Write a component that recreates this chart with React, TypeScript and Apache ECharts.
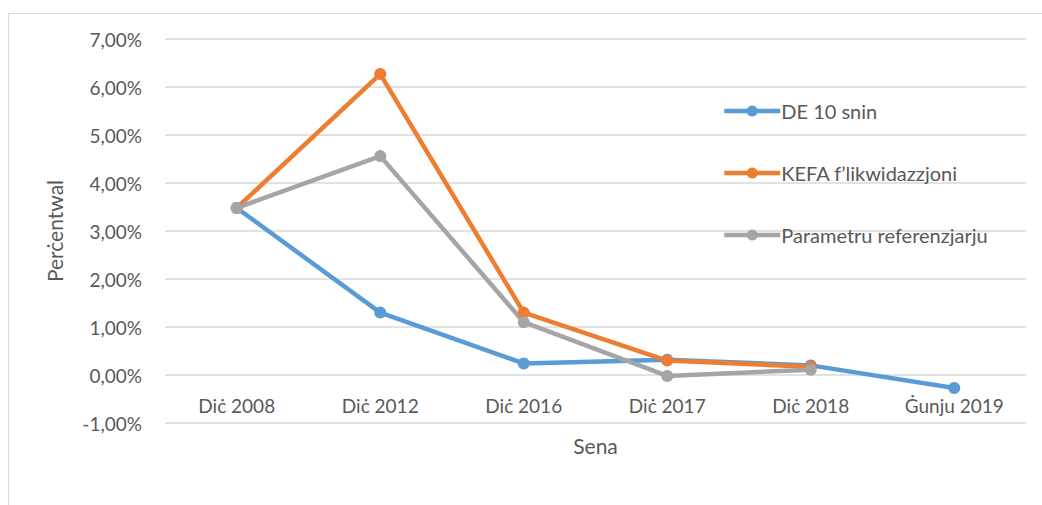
import React, { useEffect, useRef } from "react";
import * as echarts from "echarts";

const categories = ["Diċ 2008", "Diċ 2012", "Diċ 2016", "Diċ 2017", "Diċ 2018", "Ġunju 2019"];
const deValues = [3.48, 1.3, 0.24, 0.32, 0.2, -0.27];
const kefaValues = [3.48, 6.27, 1.3, 0.3, 0.17, null];
const paramValues = [3.48, 4.56, 1.1, -0.02, 0.11, null];
const seriesNames = ["DE 10 snin", "KEFA f’likwidazzjoni", "Parametru referenzjarju"];
const colors = ["#5B9BD5", "#ED7D31", "#A5A5A5"];

const FONT = "Lato";
const TXT = "#595959";

export default function App() {
  const ref = useRef<HTMLDivElement>(null);
  useEffect(() => {
    const chart = echarts.init(ref.current!, null, { renderer: "svg" });
    const mk = (name: string, data: (number | null)[], color: string) => ({
      name,
      type: "line",
      data,
      symbol: "circle",
      symbolSize: 12,
      lineStyle: { width: 4.5, color },
      itemStyle: { color },
      z: 3,
    });
    chart.setOption({
      animation: false,
      backgroundColor: "#ffffff",
      textStyle: { fontFamily: FONT },
      graphic: [
        {
          type: "rect",
          shape: { x: 8.5, y: 13.5, width: 1100, height: 600 },
          style: { fill: "none", stroke: "#d9d9d9", lineWidth: 1 },
          silent: true,
          z: -1,
        },
      ],
      grid: { left: 165, right: 16, top: 39, bottom: 82, containLabel: false },
      legend: {
        orient: "vertical",
        left: 717,
        top: 96,
        itemWidth: 56,
        itemHeight: 14,
        itemGap: 42,
        lineStyle: { width: 4.5 },
        textStyle: { fontFamily: FONT, fontSize: 20, color: TXT, padding: [0, 0, 0, -4] },
        data: seriesNames,
      },
      xAxis: {
        type: "category",
        data: categories,
        boundaryGap: true,
        offset: -48,
        axisLine: { show: false },
        axisTick: { show: false },
        axisLabel: { color: TXT, fontSize: 19, fontFamily: FONT, margin: 21 },
        name: "Sena",
        nameLocation: "middle",
        nameGap: 60,
        nameTextStyle: { color: TXT, fontSize: 21, fontFamily: FONT },
        splitLine: { show: false },
      },
      yAxis: {
        type: "value",
        min: -1,
        max: 7,
        interval: 1,
        axisLine: { show: false },
        axisTick: { show: false },
        axisLabel: {
          color: TXT,
          fontSize: 19,
          fontFamily: FONT,
          margin: 23,
          formatter: (v: number) => v.toFixed(2).replace(".", ",") + "%",
        },
        splitLine: { lineStyle: { color: "#d9d9d9", width: 1.5 } },
        name: "Perċentwal",
        nameLocation: "middle",
        nameGap: 100,
        nameTextStyle: { color: TXT, fontSize: 21, fontFamily: FONT },
      },
      series: [
        mk(seriesNames[0], deValues, colors[0]),
        mk(seriesNames[1], kefaValues, colors[1]),
        mk(seriesNames[2], paramValues, colors[2]),
      ],
    });
    return () => chart.dispose();
  }, []);
  return (
    <div
      ref={ref}
      style={{ position: "absolute", left: 0, top: 0, width: 1042, height: 505 }}
    />
  );
}
